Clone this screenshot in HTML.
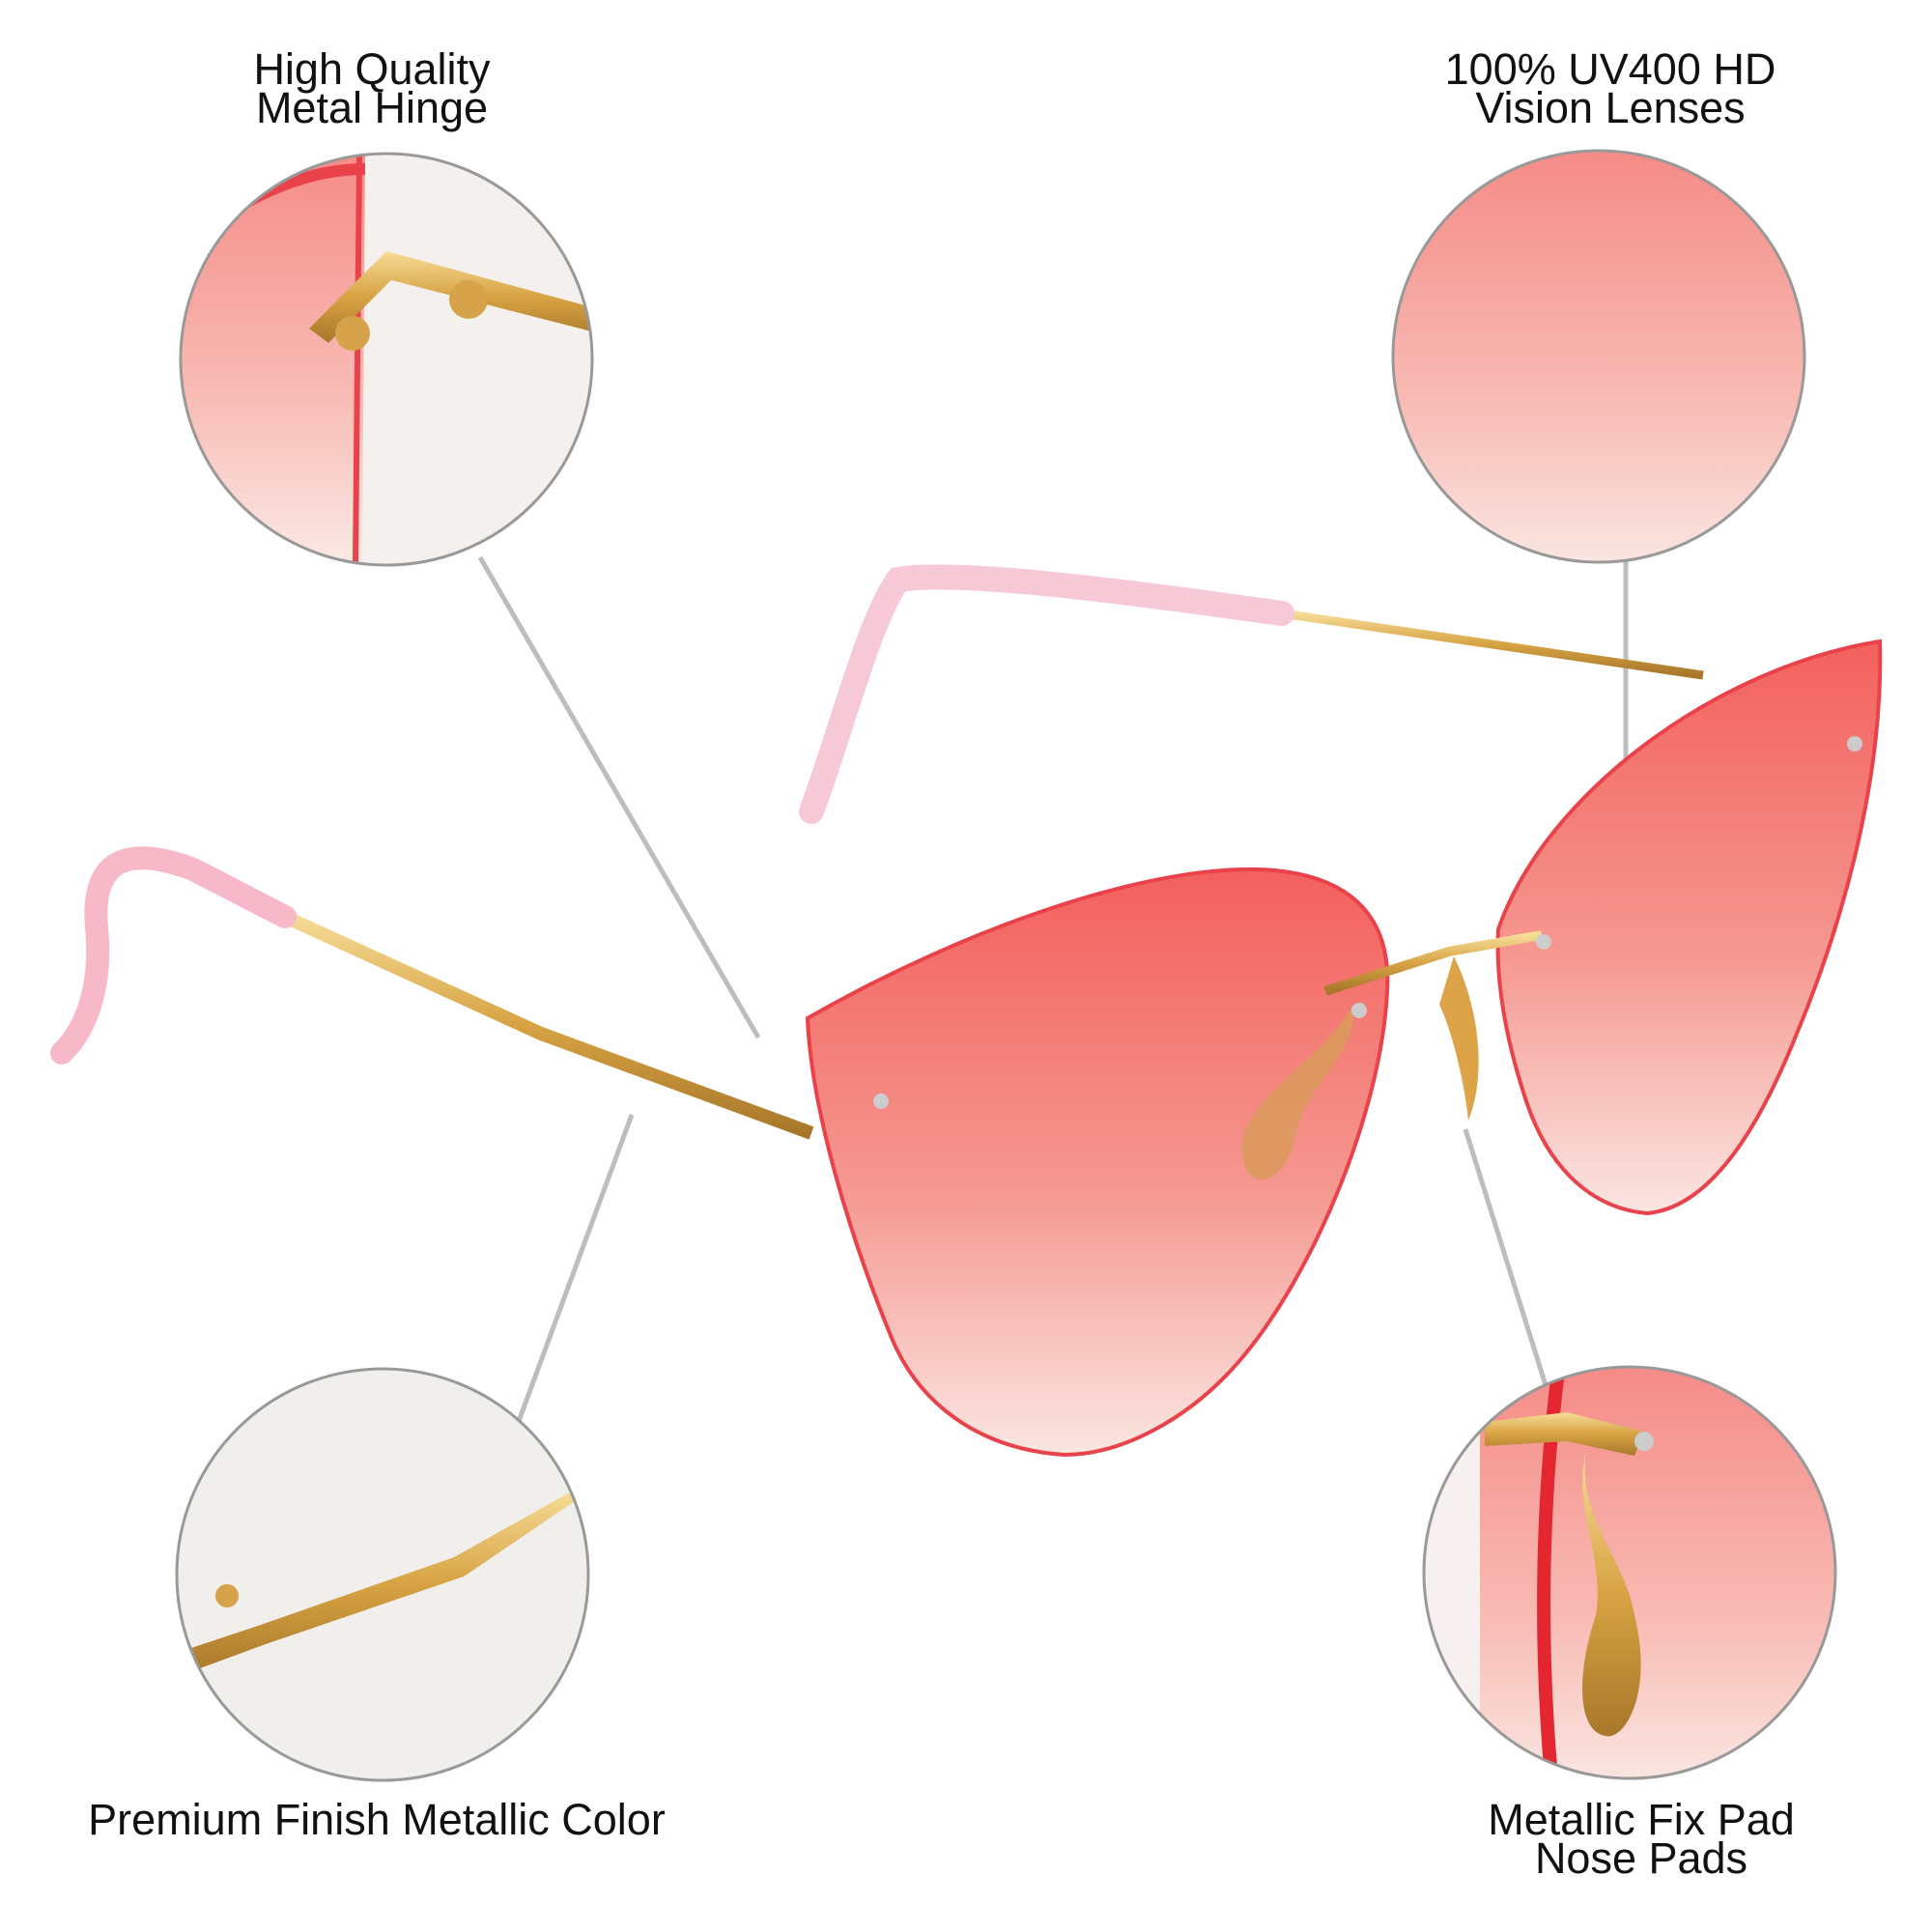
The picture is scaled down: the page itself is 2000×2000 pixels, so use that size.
<!DOCTYPE html>
<html><head><meta charset="utf-8"><style>
html,body{margin:0;padding:0;background:#fff;}
body{width:2000px;height:2000px;position:relative;overflow:hidden;font-family:"Liberation Sans",sans-serif;}
.t{position:absolute;font-size:45px;line-height:40px;color:#111;text-align:center;}
svg{position:absolute;left:0;top:0;}
</style></head><body>
<svg width="2000" height="2000" viewBox="0 0 2000 2000">
<defs>
<linearGradient id="lens" x1="0" y1="0" x2="0" y2="1">
<stop offset="0" stop-color="#f3605d"/><stop offset="0.55" stop-color="#f59890"/><stop offset="1" stop-color="#fbe6e2"/></linearGradient>
<linearGradient id="lens2" x1="0" y1="0" x2="0" y2="1">
<stop offset="0" stop-color="#f58a86"/><stop offset="0.6" stop-color="#f8bcb5"/><stop offset="1" stop-color="#fbeae6"/></linearGradient>
<linearGradient id="gold" x1="0" y1="0" x2="0" y2="1">
<stop offset="0" stop-color="#f6dc97"/><stop offset="0.5" stop-color="#d7a343"/><stop offset="1" stop-color="#a8772a"/></linearGradient>
<clipPath id="c1"><circle cx="400" cy="372" r="213"/></clipPath>
<clipPath id="c2"><circle cx="1655" cy="369" r="213"/></clipPath>
<clipPath id="c3"><circle cx="396" cy="1630" r="213"/></clipPath>
<clipPath id="c4"><circle cx="1687" cy="1628" r="213"/></clipPath>
</defs>
<g stroke="#bdbdbd" stroke-width="5" fill="none">
<line x1="497" y1="577" x2="785" y2="1074"/>
<line x1="654" y1="1154" x2="519" y2="1520"/>
<line x1="1683" y1="513" x2="1683" y2="849"/>
<line x1="1517" y1="1169" x2="1605" y2="1450"/>
</g>
<path d="M1327,635 L1763,699" stroke="url(#gold)" stroke-width="9" fill="none"/>
<path d="M1327,635 C1150,610 990,590 930,600 C900,640 870,760 840,840" stroke="#f7c9d7" stroke-width="26" fill="none" stroke-linecap="round"/>
<path d="M1551,962 C1600,820 1780,690 1946,664 C1950,800 1910,950 1860,1070 C1820,1170 1770,1250 1705,1256 C1640,1250 1600,1200 1580,1140 C1560,1080 1548,1020 1551,962 Z" fill="url(#lens)" stroke="#e9424a" stroke-width="4"/>
<path d="M840,1173 L560,1070 L295,949" stroke="url(#gold)" stroke-width="14" fill="none"/>
<path d="M295,949 L200,900 C120,870 95,900 100,960 C105,1010 95,1060 64,1090" stroke="#f7b8c8" stroke-width="24" fill="none" stroke-linecap="round"/>
<path d="M836,1054 C1000,960 1200,890 1320,901 C1410,910 1440,960 1436,1026 C1430,1150 1360,1320 1282,1410 C1230,1470 1160,1506 1102,1506 C1010,1500 950,1450 923,1385 C880,1280 840,1150 836,1054 Z" fill="url(#lens)" stroke="#e9424a" stroke-width="4"/>
<path d="M1372,1026 L1500,985 L1596,968" stroke="url(#gold)" stroke-width="10" fill="none"/>
<path d="M1505,990 C1530,1040 1540,1110 1520,1160 C1515,1110 1500,1060 1490,1040 Z" fill="#dca447"/>
<path d="M1400,1040 C1370,1100 1290,1130 1285,1190 C1290,1240 1330,1225 1340,1180 C1350,1120 1410,1090 1400,1040 Z" fill="#d99a5a" opacity="0.85"/>
<circle cx="912" cy="1140" r="8" fill="#ccc"/><circle cx="1407" cy="1046" r="8" fill="#ccc"/><circle cx="1598" cy="975" r="8" fill="#ccc"/><circle cx="1920" cy="770" r="8" fill="#ccc"/>
<g clip-path="url(#c1)">
<rect x="180" y="150" width="450" height="450" fill="#f3f0ee"/>
<path d="M180,150 L378,150 L375,585 L180,585 Z" fill="url(#lens2)"/>
<line x1="372" y1="160" x2="368" y2="585" stroke="#e9424a" stroke-width="6"/>
<path d="M210,240 C260,200 320,175 378,175" stroke="#e9424a" stroke-width="12" fill="none"/>
<path d="M320,340 L400,260 L620,320 L620,345 L405,290 L340,355 Z" fill="url(#gold)"/>
<circle cx="365" cy="345" r="18" fill="#d6a24a"/><circle cx="485" cy="310" r="20" fill="#d6a24a"/>
</g>
<circle cx="400" cy="372" r="213" fill="none" stroke="#999" stroke-width="3"/>
<g clip-path="url(#c2)"><rect x="1430" y="150" width="450" height="450" fill="url(#lens2)"/></g>
<circle cx="1655" cy="369" r="213" fill="none" stroke="#999" stroke-width="3"/>
<g clip-path="url(#c3)">
<rect x="180" y="1410" width="450" height="450" fill="#f1efec"/>
<path d="M180,1712 L270,1682 L470,1612 L595,1542 L598,1552 L480,1632 L275,1702 L180,1737 Z" fill="url(#gold)"/>
<circle cx="235" cy="1652" r="12" fill="#d6a24a"/>
</g>
<circle cx="396" cy="1630" r="213" fill="none" stroke="#999" stroke-width="3"/>
<g clip-path="url(#c4)">
<rect x="1470" y="1410" width="450" height="450" fill="url(#lens2)"/>
<rect x="1470" y="1410" width="62" height="450" fill="#f6f0ee"/>
<path d="M1614,1412 C1597,1542 1592,1692 1607,1852" stroke="#e3262f" stroke-width="14" fill="none"/>
<path d="M1537,1472 L1622,1462 L1702,1482 L1692,1507 L1622,1492 L1537,1497 Z" fill="url(#gold)"/>
<path d="M1642,1502 C1632,1572 1682,1612 1692,1672 C1712,1752 1682,1802 1662,1797 C1632,1792 1632,1732 1652,1672 C1662,1612 1627,1562 1642,1502 Z" fill="url(#gold)"/>
<circle cx="1702" cy="1492" r="10" fill="#ccc"/>
</g>
<circle cx="1687" cy="1628" r="213" fill="none" stroke="#999" stroke-width="3"/>
</svg>
<div class="t" style="left:165px;top:52px;width:440px;">High Quality<br>Metal Hinge</div>
<div class="t" style="left:1437px;top:52px;width:460px;">100% UV400 HD<br>Vision Lenses</div>
<div class="t" style="left:40px;top:1864px;width:700px;">Premium Finish Metallic Color</div>
<div class="t" style="left:1449px;top:1864px;width:500px;">Metallic Fix Pad<br>Nose Pads</div>
</body></html>
